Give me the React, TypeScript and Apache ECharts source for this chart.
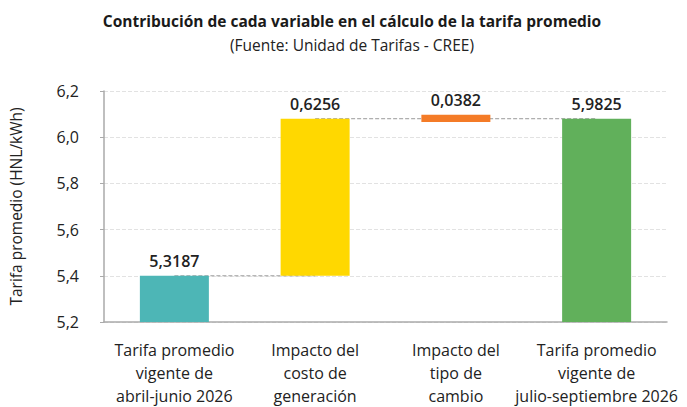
import React, { useEffect, useRef } from "react";
import * as echarts from "echarts";

const categories = [
  "Tarifa promedio\nvigente de\nabril-junio 2026",
  "Impacto del\ncosto de\ngeneración",
  "Impacto del\ntipo de\ncambio",
  "Tarifa promedio\nvigente de\njulio-septiembre 2026",
];
const valueLabels = ["5,3187", "0,6256", "0,0382", "5,9825"];
// invisible base of each waterfall step (0 = starts at axis)
const stepBase = [0, 5.4, 6.066, 0];
// visible height of each step as drawn
const stepHeight = [5.4, 0.68, 0.031, 6.08];
const barColors = ["#4db6b6", "#ffd800", "#f47b27", "#61b05b"];
const connectorLow = [
  [categories[0], 5.4],
  [categories[1], 5.4],
];
const connectorHigh = [
  [categories[1], 6.08],
  [categories[3], 6.08],
];
const yMin = 5.2;
const yMax = 6.2;
const yStep = 0.2;

const FONT = "'Open Sans', Lato, sans-serif";

export default function App() {
  const ref = useRef<HTMLDivElement>(null);
  useEffect(() => {
    if (!ref.current) return;
    const chart = echarts.init(ref.current, undefined, { renderer: "svg" });
    chart.setOption({
      animation: false,
      backgroundColor: "#ffffff",
      textStyle: { fontFamily: FONT },
      graphic: [
        {
          type: "text",
          x: 352,
          y: 21,
          style: {
            text: "Contribución de cada variable en el cálculo de la tarifa promedio",
            fontFamily: FONT,
            fontSize: 15.5,
            fontWeight: "bold",
            fill: "#1a1a1a",
            textAlign: "center",
            textVerticalAlign: "middle",
          },
        },
        {
          type: "text",
          x: 352,
          y: 45,
          style: {
            text: "(Fuente: Unidad de Tarifas - CREE)",
            fontFamily: FONT,
            fontSize: 15.5,
            fill: "#222",
            textAlign: "center",
            textVerticalAlign: "middle",
          },
        },
      ],
      grid: { left: 99, right: 20, top: 91, bottom: 75 },
      xAxis: {
        type: "category",
        data: categories,
        axisLine: { lineStyle: { color: "#aaaaaa", width: 1.5 } },
        axisTick: { show: false },
        axisLabel: {
          color: "#222",
          fontSize: 16,
          lineHeight: 23,
          margin: 16,
          fontFamily: FONT,
          interval: 0,
        },
      },
      yAxis: {
        type: "value",
        min: yMin,
        max: yMax,
        interval: yStep,
        name: "Tarifa promedio (HNL/kWh)",
        nameLocation: "middle",
        nameGap: 80,
        nameTextStyle: { color: "#222", fontSize: 15.5, fontFamily: FONT },
        axisLine: { show: true, lineStyle: { color: "#aaaaaa", width: 1.5 } },
        axisTick: { show: true, length: 4, lineStyle: { color: "#aaaaaa" } },
        axisLabel: {
          color: "#222",
          fontSize: 16,
          margin: 25,
          fontFamily: FONT,
          formatter: (v: number) => v.toFixed(1).replace(".", ","),
        },
        splitLine: { lineStyle: { color: "#e2e2e2", type: "dashed" } },
      },
      series: [
        {
          type: "line",
          data: connectorLow,
          symbol: "none",
          z: 1,
          lineStyle: { color: "#999", width: 1, type: "dashed" },
        },
        {
          type: "line",
          data: connectorHigh,
          symbol: "none",
          z: 1,
          lineStyle: { color: "#999", width: 1, type: "dashed" },
        },
        {
          type: "bar",
          stack: "wf",
          data: stepBase,
          barWidth: 69,
          itemStyle: { color: "transparent" },
          z: 2,
        },
        {
          type: "bar",
          stack: "wf",
          barWidth: 69,
          z: 3,
          data: stepHeight.map((v, i) => ({ value: v, itemStyle: { color: barColors[i] } })),
          label: {
            show: true,
            position: "top",
            distance: 7,
            color: "#222",
            fontSize: 16,
            fontWeight: 600,
            fontFamily: FONT,
            formatter: (p: any) => valueLabels[p.dataIndex],
          },
        },
      ],
    });
    return () => chart.dispose();
  }, []);
  return (
    <div
      ref={ref}
      style={{ position: "fixed", left: 0, top: 0, width: 687, height: 407 }}
    />
  );
}
